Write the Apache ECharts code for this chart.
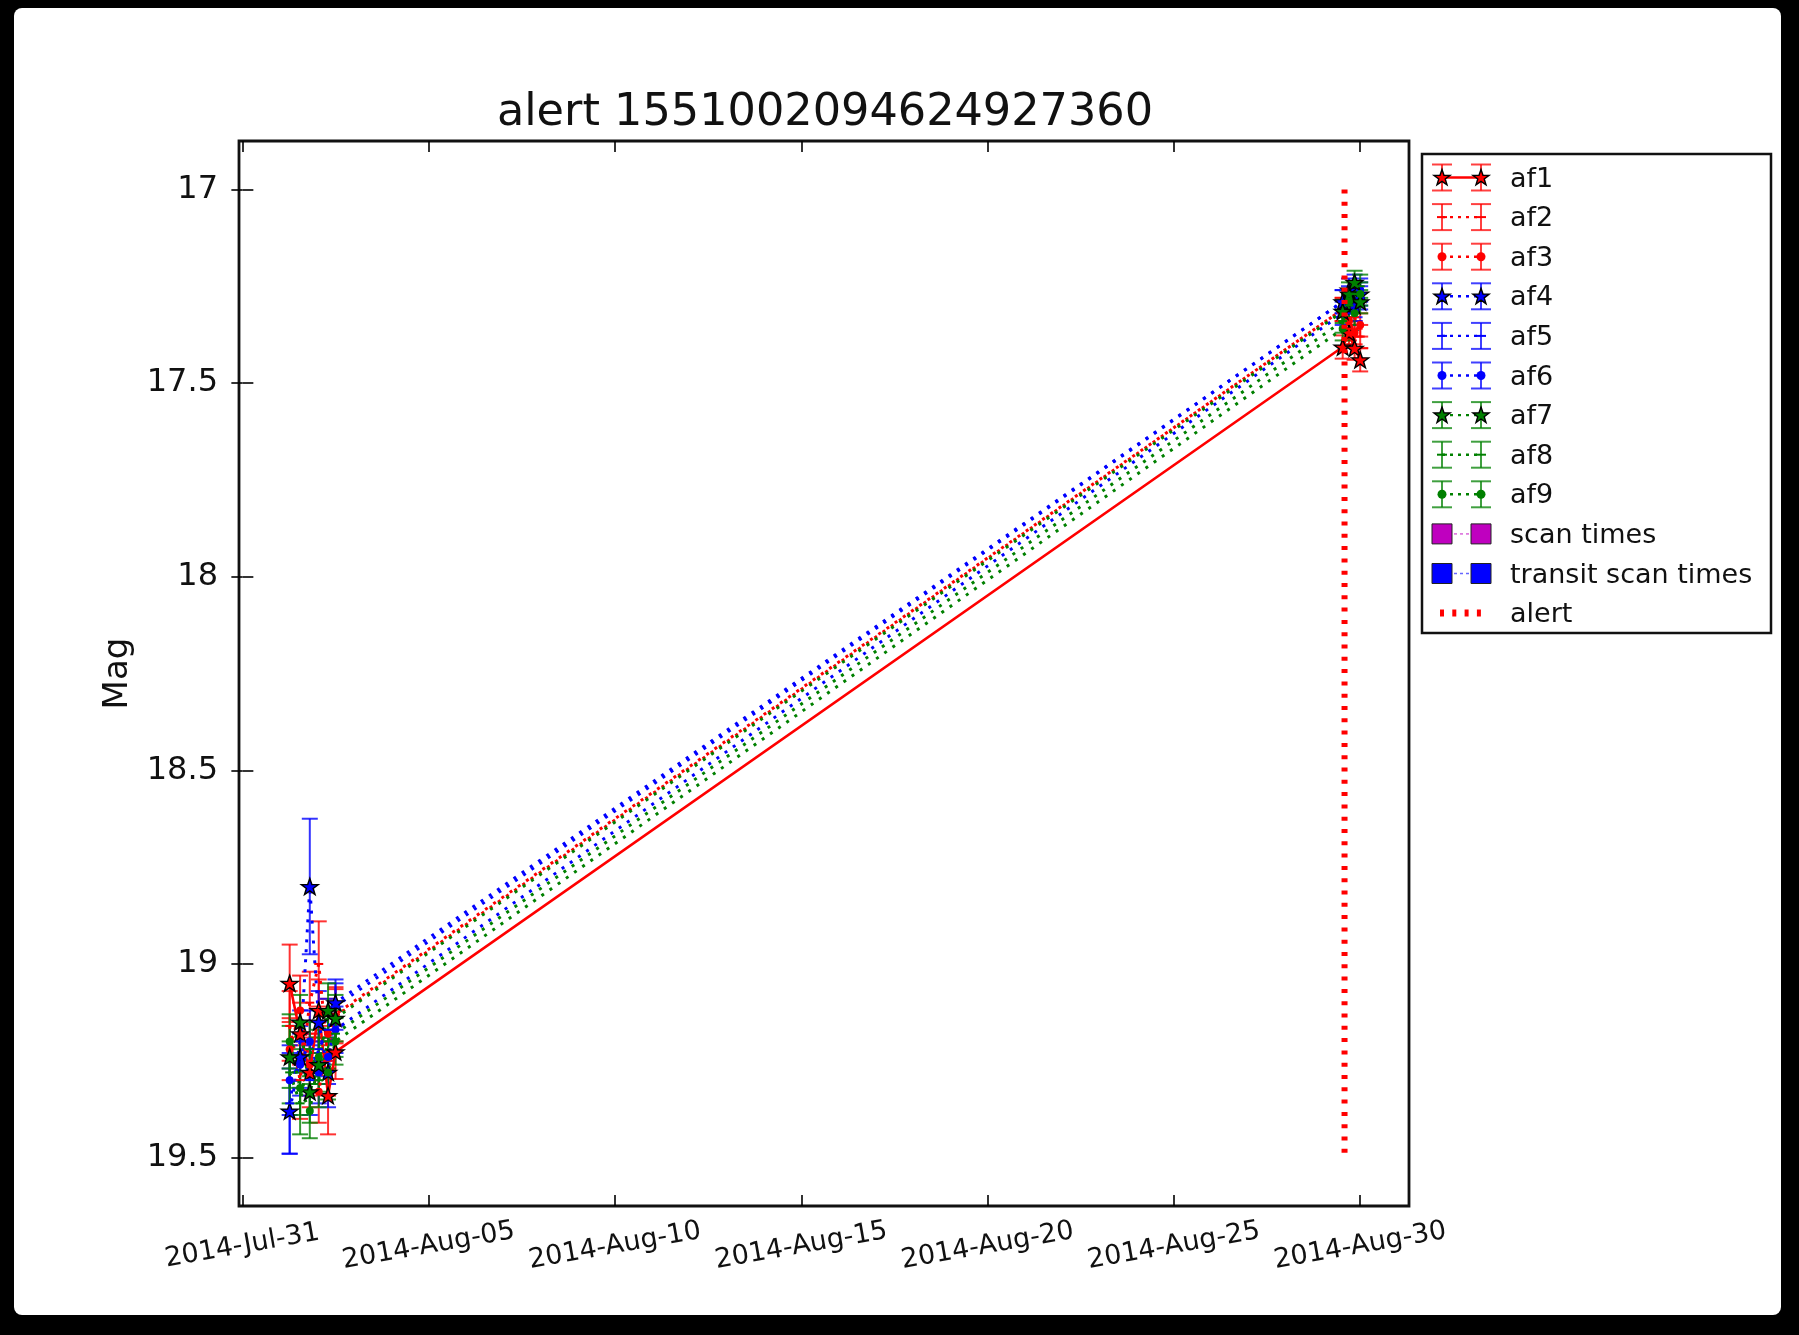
<!DOCTYPE html>
<html><head><meta charset="utf-8">
<script src="https://cdn.jsdelivr.net/npm/echarts@6/dist/echarts.min.js"></script>
<style>
html,body{margin:0;padding:0;background:#000;width:1799px;height:1335px;overflow:hidden}
#panel{position:absolute;left:14px;top:8px;width:1767px;height:1307px;background:#fff;border-radius:8px}
#chart{position:absolute;left:0;top:0;width:1799px;height:1335px}
</style></head><body><div id="panel"></div><div id="chart"></div>
<script>
const FONT = 'DejaVu Sans';
const titleText = 'alert 1551002094624927360';
const yAxisName = 'Mag';

// x in days after 2014-Jul-31 00:00
const xTickValues = [0, 5, 10, 15, 20, 25, 30];
const xTickLabels = ['2014-Jul-31','2014-Aug-05','2014-Aug-10','2014-Aug-15','2014-Aug-20','2014-Aug-25','2014-Aug-30'];
const yTickValues = [17, 17.5, 18, 18.5, 19, 19.5];
const yTickLabels = ['17','17.5','18','18.5','19','19.5'];

const transitDays = [1.27, 1.55, 1.81, 2.05, 2.30, 2.50, 29.53, 29.70, 29.85, 30.00];

const af1Mag = [19.05, 19.18, 19.28, 19.12, 19.34, 19.227, 17.407, 17.37, 17.41, 17.44];
const af1Err = [0.10, 0.08, 0.09, 0.08, 0.10, 0.07, 0.03, 0.03, 0.03, 0.03];
const af2Mag = [19.16, 19.30, 19.10, 19.00, 19.25, 19.13, 17.31, 17.36, 17.33, 17.38];
const af2Err = [0.09, 0.10, 0.08, 0.11, 0.09, 0.07, 0.03, 0.03, 0.03, 0.03];
const af3Mag = [19.22, 19.12, 19.26, 19.33, 19.18, 19.135, 17.31, 17.34, 17.37, 17.35];
const af3Err = [0.08, 0.09, 0.08, 0.08, 0.09, 0.07, 0.03, 0.03, 0.03, 0.03];
const af4Mag = [19.38, 19.24, 18.80, 19.15, 19.28, 19.10, 17.29, 17.26, 17.30, 17.27];
const af4Err = [0.11, 0.08, 0.175, 0.08, 0.09, 0.06, 0.03, 0.03, 0.03, 0.03];
const af5Mag = [19.36, 19.20, 19.30, 19.22, 19.17, 19.11, 17.29, 17.32, 17.25, 17.28];
const af5Err = [0.13, 0.08, 0.09, 0.07, 0.08, 0.06, 0.03, 0.03, 0.03, 0.03];
const af6Mag = [19.30, 19.26, 19.20, 19.28, 19.24, 19.17, 17.32, 17.28, 17.31, 17.26];
const af6Err = [0.09, 0.08, 0.08, 0.08, 0.07, 0.06, 0.03, 0.03, 0.03, 0.03];
const af7Mag = [19.24, 19.15, 19.33, 19.26, 19.12, 19.14, 17.315, 17.27, 17.24, 17.29];
const af7Err = [0.08, 0.07, 0.08, 0.07, 0.07, 0.06, 0.03, 0.03, 0.03, 0.03];
const af8Mag = [19.28, 19.36, 19.22, 19.30, 19.20, 19.18, 17.34, 17.30, 17.27, 17.25];
const af8Err = [0.08, 0.08, 0.07, 0.07, 0.07, 0.06, 0.03, 0.03, 0.03, 0.03];
const af9Mag = [19.20, 19.32, 19.38, 19.24, 19.28, 19.20, 17.36, 17.29, 17.32, 17.27];
const af9Err = [0.07, 0.07, 0.07, 0.07, 0.07, 0.06, 0.03, 0.03, 0.03, 0.03];

const scanTimes = [];
const transitScanTimes = [];
const alertDay = 29.58;
const alertMags = [17.0, 19.5];

const afNames = ['af1','af2','af3','af4','af5','af6','af7','af8','af9'];
const afMags = [af1Mag, af2Mag, af3Mag, af4Mag, af5Mag, af6Mag, af7Mag, af8Mag, af9Mag];
const afErrs = [af1Err, af2Err, af3Err, af4Err, af5Err, af6Err, af7Err, af8Err, af9Err];

const RED = '#ff0000', BLUE = '#0000ff', GREEN = '#008000';
const afStyle = [
  {c: RED, m: 'star', dot: false}, {c: RED, m: 'plus', dot: true}, {c: RED, m: 'dot', dot: true},
  {c: BLUE, m: 'star', dot: true}, {c: BLUE, m: 'plus', dot: true}, {c: BLUE, m: 'dot', dot: true},
  {c: GREEN, m: 'star', dot: true}, {c: GREEN, m: 'plus', dot: true}, {c: GREEN, m: 'dot', dot: true}
];
const STAR_PTS = [[0,-10],[2.35,-3.24],[9.51,-3.09],[3.8,1.24],[5.88,8.09],[0,4],[-5.88,8.09],[-3.8,1.24],[-9.51,-3.09],[-2.35,-3.24]];
const STAR = 'M' + STAR_PTS.map(p => p[0] + ',' + p[1]).join(' L') + ' Z';
const DOT_DASH = [3, 7];

function errRender(color) {
  return function (params, api) {
    const x = api.value(0), m = api.value(1), e = api.value(2);
    const a = api.coord([x, m - e]), b = api.coord([x, m + e]);
    const hw = 8;
    const st = {stroke: color, lineWidth: 2, opacity: 0.8};
    return {type: 'group', children: [
      {type: 'line', shape: {x1: a[0], y1: a[1], x2: b[0], y2: b[1]}, style: st},
      {type: 'line', shape: {x1: a[0] - hw, y1: a[1], x2: a[0] + hw, y2: a[1]}, style: st},
      {type: 'line', shape: {x1: b[0] - hw, y1: b[1], x2: b[0] + hw, y2: b[1]}, style: st}
    ]};
  };
}

function symbolFor(m) {
  if (m === 'star') return {symbol: 'path://' + STAR, size: [17, 16]};
  if (m === 'dot') return {symbol: 'circle', size: 8};
  return {symbol: 'rect', size: [9, 2]};
}

const series = [];
afNames.forEach((name, k) => {
  const s = afStyle[k];
  const data = transitDays.map((t, i) => [t, afMags[k][i], afErrs[k][i]]);
  series.push({
    type: 'custom', name: name + ' err', renderItem: errRender(s.c),
    data: data, encode: {x: 0, y: 1}, silent: true, z: 2
  });
  const sym = symbolFor(s.m);
  series.push({
    type: 'line', name: name, data: data.map(d => [d[0], d[1]]),
    symbol: sym.symbol, symbolSize: sym.size, showSymbol: true, showAllSymbol: true,
    itemStyle: s.m === 'star' ? {color: s.c, borderColor: '#000', borderWidth: 1.4}
                              : {color: s.c, borderColor: s.c, borderWidth: 0},
    lineStyle: {color: s.c, width: s.dot ? 3 : 2.6, type: s.dot ? DOT_DASH : 'solid', cap: 'butt'},
    z: 3, silent: true
  });
});
series.push({type: 'scatter', name: 'scan times', data: scanTimes, symbol: 'rect', itemStyle: {color: '#bf00bf'}});
series.push({type: 'scatter', name: 'transit scan times', data: transitScanTimes, symbol: 'rect', itemStyle: {color: BLUE}});
series.push({
  type: 'line', name: 'alert', data: alertMags.map(m => [alertDay, m]), symbol: 'none',
  lineStyle: {color: RED, width: 6, type: [4, 8.3], cap: 'butt'}, z: 4, silent: true
});

// legend drawn as graphic
const legendNames = afNames.concat(['scan times', 'transit scan times', 'alert']);
const LX = 1422, LY = 154, LW = 349, LH = 479;
const rowY0 = 177.5, rowStep = 39.6;
const e1 = 1442, e2 = 1481;
const gEls = [{type: 'rect', shape: {x: LX, y: LY, width: LW, height: LH},
  style: {fill: '#fff', stroke: '#111', lineWidth: 2.5}, z: 100}];
legendNames.forEach((nm, i) => {
  const y = rowY0 + i * rowStep;
  gEls.push({type: 'text', x: 1510, y: y + 2, z: 102,
    style: {text: nm, font: '27px "DejaVu Sans"', fill: '#111', verticalAlign: 'middle', align: 'left'}});
  if (i < 9) {
    const s = afStyle[i];
    gEls.push({type: 'line', z: 101, shape: {x1: e1, y1: y, x2: e2, y2: y},
      style: {stroke: s.c, lineWidth: 2.4, lineDash: s.dot ? [3, 5] : null}});
    [e1, e2].forEach(ex => {
      const st = {stroke: s.c, lineWidth: 2, opacity: 0.75};
      gEls.push({type: 'line', z: 101, shape: {x1: ex, y1: y - 13, x2: ex, y2: y + 13}, style: st});
      gEls.push({type: 'line', z: 101, shape: {x1: ex - 10, y1: y - 13, x2: ex + 10, y2: y - 13}, style: st});
      gEls.push({type: 'line', z: 101, shape: {x1: ex - 10, y1: y + 13, x2: ex + 10, y2: y + 13}, style: st});
      if (s.m === 'star') {
        gEls.push({type: 'polygon', z: 102,
          shape: {points: STAR_PTS.map(p => [ex + p[0] * 0.85, y + p[1] * 0.85 + 0.5])},
          style: {fill: s.c, stroke: '#000', lineWidth: 1.4}});
      } else if (s.m === 'dot') {
        gEls.push({type: 'circle', z: 102, shape: {cx: ex, cy: y, r: 4.5}, style: {fill: s.c}});
      } else {
        gEls.push({type: 'rect', z: 102, shape: {x: ex - 5, y: y - 1, width: 10, height: 2}, style: {fill: s.c}});
      }
    });
  } else if (i < 11) {
    const col = i === 9 ? '#bf00bf' : BLUE;
    gEls.push({type: 'line', z: 101, shape: {x1: e1, y1: y, x2: e2, y2: y},
      style: {stroke: col, lineWidth: 1.5, lineDash: [3, 3], opacity: 0.6}});
    [e1, e2].forEach(ex => {
      gEls.push({type: 'rect', z: 102, shape: {x: ex - 10, y: y - 10, width: 20, height: 20},
        style: {fill: col, stroke: '#222', lineWidth: 1}});
    });
  } else {
    gEls.push({type: 'line', z: 101, shape: {x1: 1440, y1: y, x2: 1488, y2: y},
      style: {stroke: RED, lineWidth: 7, lineDash: [4, 8.3]}});
  }
});

const chart = echarts.init(document.getElementById('chart'), null, {renderer: 'canvas'});
const tickStyle = {show: true, inside: true, length: 11, lineStyle: {color: '#000', width: 1.6}};
chart.setOption({
  animation: false,
  backgroundColor: 'transparent',
  title: {text: titleText, left: 820, textAlign: 'center', top: 86,
    textStyle: {fontFamily: FONT, fontSize: 44.6, fontWeight: 'normal', color: '#111'}},
  grid: {left: 239, top: 141, right: 390, bottom: 129, show: true, borderColor: '#111', borderWidth: 2.8, backgroundColor: '#fff', containLabel: false},
  xAxis: [{
    type: 'value', min: -0.09, max: 31.31, position: 'bottom',
    axisLine: {show: false}, splitLine: {show: false},
    axisTick: Object.assign({customValues: xTickValues}, tickStyle),
    axisLabel: {customValues: xTickValues, rotate: 10, align: 'center', verticalAlign: 'middle', margin: 40,
      fontFamily: FONT, fontSize: 27, color: '#111',
      formatter: v => xTickLabels[xTickValues.indexOf(Math.round(v))] || ''}
  }, {
    type: 'value', min: -0.09, max: 31.31, position: 'top',
    axisLine: {show: false}, splitLine: {show: false}, axisLabel: {show: false},
    axisTick: Object.assign({customValues: xTickValues}, tickStyle)
  }],
  yAxis: [{
    type: 'value', inverse: true, min: 16.875, max: 19.625, position: 'left',
    name: yAxisName, nameLocation: 'middle', nameRotate: 90, nameGap: 104,
    nameTextStyle: {fontFamily: FONT, fontSize: 34, color: '#111'},
    axisLine: {show: false}, splitLine: {show: false},
    axisTick: Object.assign({customValues: yTickValues}, tickStyle),
    axisLabel: {customValues: yTickValues, margin: 21, fontFamily: FONT, fontSize: 32, color: '#111',
      formatter: v => yTickLabels[yTickValues.indexOf(Math.round(v * 2) / 2)] || ''}
  }, {
    type: 'value', inverse: true, min: 16.875, max: 19.625, position: 'right',
    axisLine: {show: false}, splitLine: {show: false}, axisLabel: {show: false},
    axisTick: Object.assign({customValues: yTickValues}, tickStyle)
  }],
  series: series,
  graphic: {elements: gEls}
});
</script></body></html>
